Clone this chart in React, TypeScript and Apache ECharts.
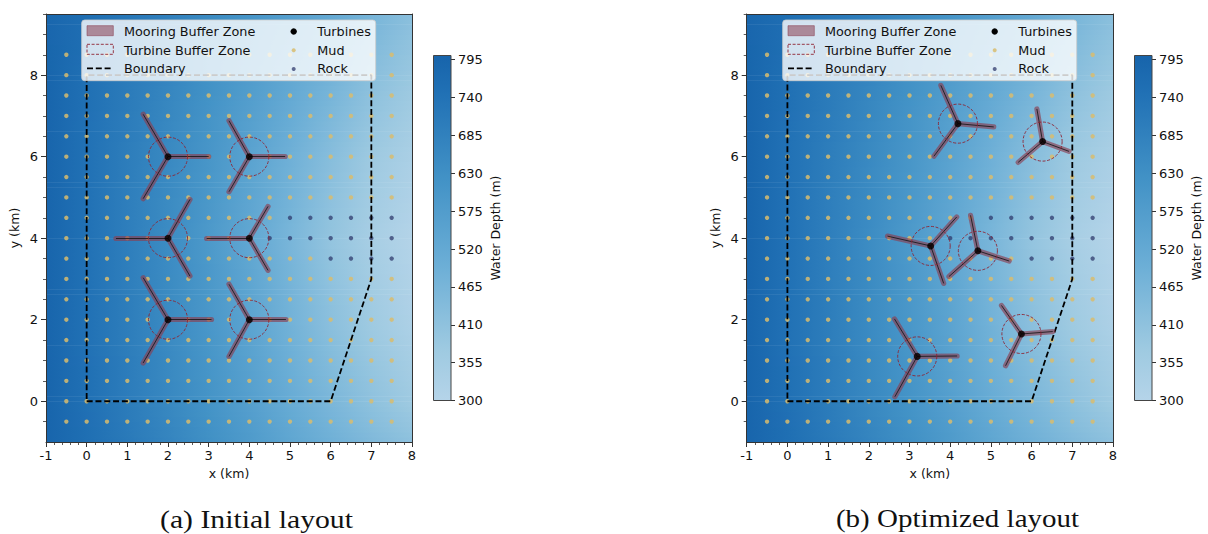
import React, { useEffect, useRef } from "react";
import * as echarts from "echarts";

const xKnots = [-1, 0, 1, 2, 3, 4, 5, 6, 7, 8];
const yKnots = [-1, 0, 2, 4, 6, 8, 9.5];
const depthRows = [
  [795, 755, 715, 675, 630, 585, 535, 490, 450, 415],
  [795, 750, 705, 660, 615, 565, 510, 460, 412, 372],
  [795, 745, 700, 650, 600, 545, 480, 420, 370, 325],
  [795, 745, 695, 645, 590, 530, 465, 400, 345, 305],
  [795, 745, 700, 655, 605, 550, 490, 430, 375, 335],
  [795, 750, 710, 670, 625, 580, 530, 480, 425, 385],
  [790, 760, 725, 690, 650, 610, 565, 520, 470, 425],
];
const colorDepths = [300, 374, 498, 622, 745, 801];
const colorHex = ["#b5d4e9", "#9ecae1", "#6baed6", "#4292c6", "#2171b5", "#1764ab"];
const colorbarTicks = [300, 355, 410, 465, 520, 575, 630, 685, 740, 795];

const gridXs = [-0.5, 0, 0.5, 1, 1.5, 2, 2.5, 3, 3.5, 4, 4.5, 5, 5.5, 6, 6.5, 7, 7.5];
const gridYs = [-0.5, 0, 0.5, 1, 1.5, 2, 2.5, 3, 3.5, 4, 4.5, 5, 5.5, 6, 6.5, 7, 7.5, 8, 8.5];
const rockPoints = [
  [5, 4.5], [5.5, 4.5], [6, 4.5], [6.5, 4.5], [7, 4.5], [7.5, 4.5],
  [4, 4], [4.5, 4], [5, 4], [5.5, 4], [6, 4], [6.5, 4], [7, 4], [7.5, 4],
  [6, 3.5], [6.5, 3.5], [7, 3.5], [7.5, 3.5],
];
const boundary = [[0, 0], [6, 0], [7, 3], [7, 8], [0, 8], [0, 0]];

const turbinesA = [[2, 6], [4, 6], [2, 4], [4, 4], [2, 2], [4, 2]];
const anchorsA = [
  [[3.0, 6], [1.39, 7.04], [1.39, 4.97]],
  [[4.88, 6], [3.5, 6.88], [3.5, 5.14]],
  [[0.72, 4], [2.54, 4.95], [2.54, 3.07]],
  [[2.95, 4], [4.46, 4.78], [4.46, 3.21]],
  [[3.07, 2], [1.39, 3.03], [1.39, 0.94]],
  [[4.9, 2], [3.5, 2.87], [3.5, 1.1]],
];
const turbinesB = [[4.19, 6.81], [6.27, 6.37], [3.52, 3.81], [4.68, 3.69], [5.75, 1.65], [3.19, 1.1]];
const anchorsB = [
  [[3.77, 7.75], [5.07, 6.73], [3.6, 6.01]],
  [[6.13, 7.17], [6.92, 6.13], [5.67, 5.86]],
  [[2.46, 4.05], [4.16, 4.52], [3.84, 2.89]],
  [[4.5, 4.56], [5.45, 3.44], [3.97, 3.06]],
  [[5.26, 2.35], [6.52, 1.71], [5.36, 0.87]],
  [[2.63, 2.02], [4.17, 1.11], [2.64, 0.11]],
];
const bufferRadiusKm = 0.48;
const yMajor = [0, 2, 4, 6, 8];
const yMinor = [-0.5, 0.5, 1, 1.5, 2.5, 3, 3.5, 4.5, 5, 5.5, 6.5, 7, 7.5, 8.5, 9, 9.5];

const FONT = "DejaVu Sans";
const AXIS = "#333333";
const MOORING = "#8a3f52";
const CIRCLE = "#8e2433";
const MUD = "#d8bc6e";
const ROCK = "#2b3568";

function hexRgb(h: string) {
  return [1, 3, 5].map((i) => parseInt(h.slice(i, i + 2), 16));
}
function depthColor(d: number) {
  let i = 0;
  while (i < colorDepths.length - 2 && d > colorDepths[i + 1]) i++;
  const t = Math.max(0, Math.min(1, (d - colorDepths[i]) / (colorDepths[i + 1] - colorDepths[i])));
  const a = hexRgb(colorHex[i]);
  const b = hexRgb(colorHex[i + 1]);
  return `rgb(${a.map((v, k) => Math.round(v + (b[k] - v) * t)).join(",")})`;
}
function rowAt(y: number) {
  let i = 0;
  while (i < yKnots.length - 2 && y > yKnots[i + 1]) i++;
  const t = (y - yKnots[i]) / (yKnots[i + 1] - yKnots[i]);
  return depthRows[i].map((v, k) => v + (depthRows[i + 1][k] - v) * t);
}
const stripEdges: number[][] = [];
for (let k = 0; k < 84; k++) stripEdges.push([-1 + k * 0.125, -1 + (k + 1) * 0.125]);

function panelSeries(
  base: { x: number; y: number },
  turbines: number[][],
  anchors: number[][][],
) {
  const common = { xAxisIndex: base.x, yAxisIndex: base.y };
  const moorings: any[] = [];
  turbines.forEach((t, i) => anchors[i].forEach((a) => moorings.push({ coords: [t, a] })));
  const rockKey = new Set(rockPoints.map((p) => p.join(",")));
  const mud: number[][] = [];
  gridXs.forEach((x) => gridYs.forEach((y) => {
    if (!rockKey.has(`${x},${y}`)) mud.push([x, y]);
  }));
  return [
    {
      type: "custom", ...common, z: 1, silent: true, clip: true,
      data: stripEdges,
      encode: { y: [0, 1] },
      renderItem: (_: any, api: any) => {
        const y0 = api.value(0);
        const y1 = api.value(1);
        const a = api.coord([-1, y1]);
        const b = api.coord([8, y0]);
        const row = rowAt((y0 + y1) / 2);
        return {
          type: "rect",
          shape: { x: a[0], y: a[1], width: b[0] - a[0], height: b[1] - a[1] + 0.6 },
          style: {
            fill: new echarts.graphic.LinearGradient(0, 0, 1, 0, xKnots.map((x, i) => ({
              offset: (x + 1) / 9, color: depthColor(row[i]),
            }))),
          },
        };
      },
    },
    {
      type: "scatter", ...common, name: "Mud", z: 3, symbolSize: 4.4, data: mud,
      itemStyle: { color: MUD, opacity: 0.85 },
    },
    {
      type: "scatter", ...common, name: "Rock", z: 3, symbolSize: 4.4, data: rockPoints,
      itemStyle: { color: ROCK, opacity: 0.72 },
    },
    {
      type: "line", ...common, name: "Boundary", z: 4, data: boundary, symbol: "none",
      lineStyle: { color: "#000", width: 1.8, type: [6, 2.8] },
    },
    {
      type: "lines", ...common, coordinateSystem: "cartesian2d", z: 5, data: moorings,
      lineStyle: { color: MOORING, width: 5.2, opacity: 0.65, cap: "round" },
    },
    {
      type: "lines", ...common, coordinateSystem: "cartesian2d", z: 6, data: moorings,
      lineStyle: { color: "#111", width: 0.8, opacity: 1 },
    },
    {
      type: "custom", ...common, z: 7, data: turbines, silent: true,
      renderItem: (_: any, api: any) => {
        const c = api.coord([api.value(0), api.value(1)]);
        const r = api.size([bufferRadiusKm, 0])[0];
        return {
          type: "circle",
          shape: { cx: c[0], cy: c[1], r },
          style: { fill: "none", stroke: CIRCLE, lineWidth: 0.9, lineDash: [3, 1.6] },
        };
      },
    },
    {
      type: "scatter", ...common, name: "Turbines", z: 8, symbolSize: 7, data: turbines,
      itemStyle: { color: "#000" },
    },
  ];
}

function legendGraphic(left: number) {
  const text = (x: number, y: number, s: string) => ({
    type: "text", x: left + x, y, z: 101,
    style: { text: s, fill: "#111", font: `12.8px "${FONT}"`, textVerticalAlign: "middle" },
  });
  return [
    {
      type: "rect", z: 100,
      shape: { x: left, y: 20, width: 294, height: 60.7, r: 3 },
      style: { fill: "rgba(255,255,255,0.8)", stroke: "rgba(204,204,204,0.8)", lineWidth: 1 },
    },
    {
      type: "rect", z: 101, shape: { x: left + 5.3, y: 25.7, width: 26.3, height: 10 },
      style: { fill: "rgba(138,63,82,0.55)", stroke: "rgba(138,63,82,0.55)", lineWidth: 1 },
    },
    {
      type: "rect", z: 101, shape: { x: left + 5.3, y: 44.3, width: 26.3, height: 10 },
      style: { fill: "none", stroke: CIRCLE, lineWidth: 0.9, lineDash: [3, 1.6] },
    },
    {
      type: "line", z: 101, shape: { x1: left + 5.3, y1: 68.4, x2: left + 31.6, y2: 68.4 },
      style: { stroke: "#000", lineWidth: 1.8, lineDash: [6, 2.8] },
    },
    text(42.3, 31, "Mooring Buffer Zone"),
    text(42.3, 50, "Turbine Buffer Zone"),
    text(42.3, 68.6, "Boundary"),
    {
      type: "circle", z: 101, shape: { cx: left + 212, cy: 31.5, r: 3.2 }, style: { fill: "#000" },
    },
    {
      type: "circle", z: 101, shape: { cx: left + 212, cy: 50.2, r: 2 },
      style: { fill: MUD, opacity: 0.85 },
    },
    {
      type: "circle", z: 101, shape: { cx: left + 212, cy: 69, r: 2 },
      style: { fill: ROCK, opacity: 0.72 },
    },
    text(235.6, 31, "Turbines"),
    text(235.6, 50, "Mud"),
    text(235.6, 68.6, "Rock"),
  ];
}

function buildOption() {
  const grids: any[] = [];
  const xAxes: any[] = [];
  const yAxes: any[] = [];
  const series: any[] = [];
  const label = { fontFamily: FONT, fontSize: 13, color: "#111" };
  const line = { lineStyle: { color: AXIS, width: 1 } };

  const addPanel = (
    left: number, width: number, cbLeft: number,
    turbines: number[][], anchors: number[][][],
  ) => {
    const g = grids.length;
    grids.push({ left, top: 14, width, height: 428, containLabel: false });
    const x = xAxes.length;
    xAxes.push({
      gridIndex: g, type: "value", min: -1, max: 8, interval: 1, position: "bottom", z: 10,
      name: "x (km)", nameLocation: "middle", nameGap: 25,
      nameTextStyle: { fontFamily: FONT, fontSize: 12.5, color: "#111" },
      axisLine: { show: true, onZero: false, ...line },
      axisTick: { show: true, length: 5, ...line },
      minorTick: { show: true, splitNumber: 5, length: 3, lineStyle: { color: AXIS, width: 0.8 } },
      axisLabel: { ...label, margin: 7, showMinLabel: true, showMaxLabel: true },
      splitLine: { show: false },
    });
    xAxes.push({
      gridIndex: g, type: "value", min: -1, max: 8, interval: 1, position: "top", z: 10,
      axisLine: { show: true, onZero: false, ...line },
      axisTick: { show: false }, axisLabel: { show: false }, splitLine: { show: false },
    });
    const y = yAxes.length;
    yAxes.push({
      gridIndex: g, type: "value", min: -1, max: 9.5, position: "left", z: 10,
      name: "y (km)", nameLocation: "middle", nameGap: 25, nameRotate: 90,
      nameTextStyle: { fontFamily: FONT, fontSize: 12.5, color: "#111" },
      axisLine: { show: true, onZero: false, ...line },
      axisTick: { show: true, length: 5, customValues: yMajor, ...line },
      axisLabel: { ...label, margin: 8, customValues: yMajor },
      splitLine: { show: false },
    });
    yAxes.push({
      gridIndex: g, type: "value", min: -1, max: 9.5, position: "left", z: 10,
      axisLine: { show: false, onZero: false },
      axisTick: { show: true, length: 3, customValues: yMinor, lineStyle: { color: AXIS, width: 0.8 } },
      axisLabel: { show: false }, splitLine: { show: false },
    });
    yAxes.push({
      gridIndex: g, type: "value", min: -1, max: 9.5, position: "right", z: 10,
      axisLine: { show: true, onZero: false, ...line },
      axisTick: { show: false }, axisLabel: { show: false }, splitLine: { show: false },
    });
    series.push(...panelSeries({ x, y }, turbines, anchors));

    const cg = grids.length;
    grids.push({ left: cbLeft, top: 55.5, width: 17.5, height: 345 });
    const cx = xAxes.length;
    xAxes.push({
      gridIndex: cg, type: "value", min: 0, max: 1, position: "bottom",
      axisLine: { show: false, onZero: false }, axisTick: { show: false },
      axisLabel: { show: false }, splitLine: { show: false },
    });
    const cy = yAxes.length;
    yAxes.push({
      gridIndex: cg, type: "value", min: 300, max: 801, position: "right",
      name: "Water Depth (m)", nameLocation: "middle", nameGap: 38, nameRotate: 90,
      nameTextStyle: { fontFamily: FONT, fontSize: 12.5, color: "#111" },
      axisLine: { show: false, onZero: false },
      axisTick: { show: true, length: 4, customValues: colorbarTicks, ...line },
      axisLabel: { ...label, margin: 7, customValues: colorbarTicks },
      splitLine: { show: false },
    });
    series.push({
      type: "custom", xAxisIndex: cx, yAxisIndex: cy, z: 2, silent: true,
      data: [[300, 801]],
      encode: { y: [0, 1] },
      renderItem: (_: any, api: any) => {
        const a = api.coord([0, api.value(1)]);
        const b = api.coord([1, api.value(0)]);
        return {
          type: "rect",
          shape: { x: a[0], y: a[1], width: b[0] - a[0], height: b[1] - a[1] },
          style: {
            stroke: "#444", lineWidth: 1,
            fill: new echarts.graphic.LinearGradient(0, 1, 0, 0, colorDepths.map((d, i) => ({
              offset: (d - 300) / 501, color: colorHex[i],
            }))),
          },
        };
      },
    });
  };

  addPanel(46, 366, 433.5, turbinesA, anchorsA);
  addPanel(746.7, 366.3, 1134.5, turbinesB, anchorsB);

  return {
    animation: false,
    backgroundColor: "#fff",
    grid: grids,
    xAxis: xAxes,
    yAxis: yAxes,
    series,
    graphic: {
      elements: [
        ...legendGraphic(81.7),
        ...legendGraphic(782.7),
        {
          type: "text", x: 256.5, y: 519, z: 101, scaleX: 1.165,
          style: { text: "(a) Initial layout", fill: "#111", font: `25.5px "Liberation Serif"`,
            textAlign: "center", textVerticalAlign: "middle" },
        },
        {
          type: "text", x: 957.5, y: 519, z: 101, scaleX: 1.137,
          style: { text: "(b) Optimized layout", fill: "#111", font: `25.5px "Liberation Serif"`,
            textAlign: "center", textVerticalAlign: "middle" },
        },
      ],
    },
  };
}

export default function App() {
  const ref = useRef<HTMLDivElement>(null);
  useEffect(() => {
    const chart = echarts.init(ref.current!, undefined, { renderer: "svg" });
    chart.setOption(buildOption() as any);
    return () => chart.dispose();
  }, []);
  return <div ref={ref} style={{ position: "fixed", left: 0, top: 0, width: 1208, height: 534 }} />;
}
